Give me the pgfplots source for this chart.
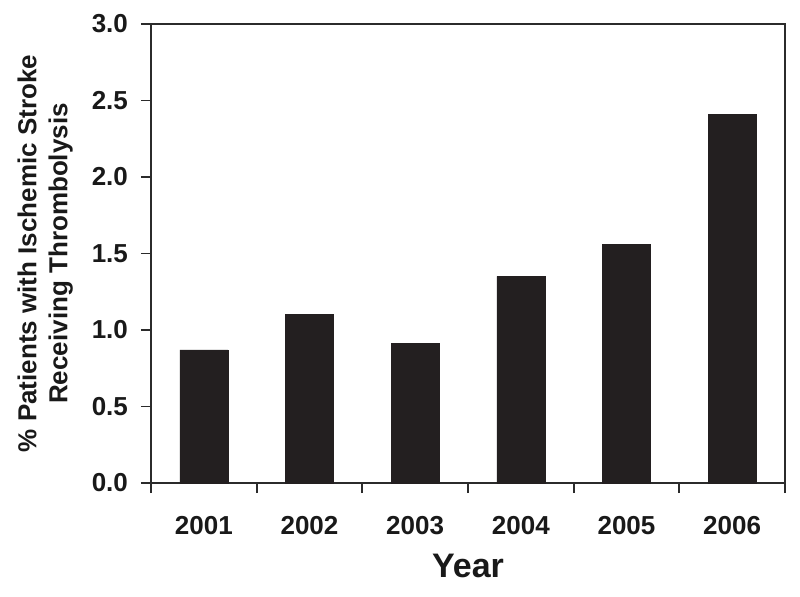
\documentclass[border=0pt]{standalone}
\usepackage{pgfplots}
\pgfplotsset{compat=1.18}
\usepackage{fontspec}
\setmainfont{Liberation Sans}
\usetikzlibrary{calc}
\definecolor{barfill}{HTML}{231F20}
\definecolor{axisline}{HTML}{2B2B2B}

\begin{document}
\begin{tikzpicture}
\begin{axis}[
  name=ax,
  scale only axis,
  width=317pt, height=229.5pt,
  ybar, bar width=24pt,
  xmin=-0.5, xmax=5.5, ymin=0, ymax=3,
  xtick={0,...,5},
  xticklabels={2001,2002,2003,2004,2005,2006},
  major x tick style={draw=none},
  minor xtick={-0.5,0.5,...,5.5},
  ytick={0,0.5,...,3},
  tick align=outside,
  tick pos=left,
  major tick length=5pt, minor tick length=5pt,
  axis line style={axisline, line width=0.9pt},
  every tick/.style={axisline, line width=0.9pt},
  /pgf/number format/fixed,
  /pgf/number format/fixed zerofill,
  /pgf/number format/precision=1,
  /pgf/number format/assume math mode=true,
  ticklabel style={font=\bfseries\fontsize{13}{15}\selectfont, text=black!90},
  yticklabel style={xshift=-3pt},
  xticklabel style={anchor=base, yshift=-20.5pt},
  xlabel={Year},
  xlabel style={font=\bfseries\fontsize{17}{19}\selectfont, text=black!90,
    at={(axis description cs:0.5,0)}, anchor=base, yshift=-47pt},
  ylabel={\% Patients with Ischemic Stroke\\Receiving Thrombolysis},
  ylabel style={font=\bfseries\fontsize{13}{15.5}\selectfont, text=black!90, align=center,
    at={(axis description cs:-0.112,0.5)}, anchor=south},
]
\addplot[fill=barfill, draw=barfill, line width=0.3pt] coordinates {
  (0,0.87) (1,1.10) (2,0.91) (3,1.35) (4,1.56) (5,2.41)
};
\end{axis}
\pgfresetboundingbox
\path[use as bounding box] ($(ax.south west)+(-75.5pt,-56.5pt)$) rectangle ($(ax.north east)+(7.5pt,12pt)$);
\end{tikzpicture}
\end{document}
